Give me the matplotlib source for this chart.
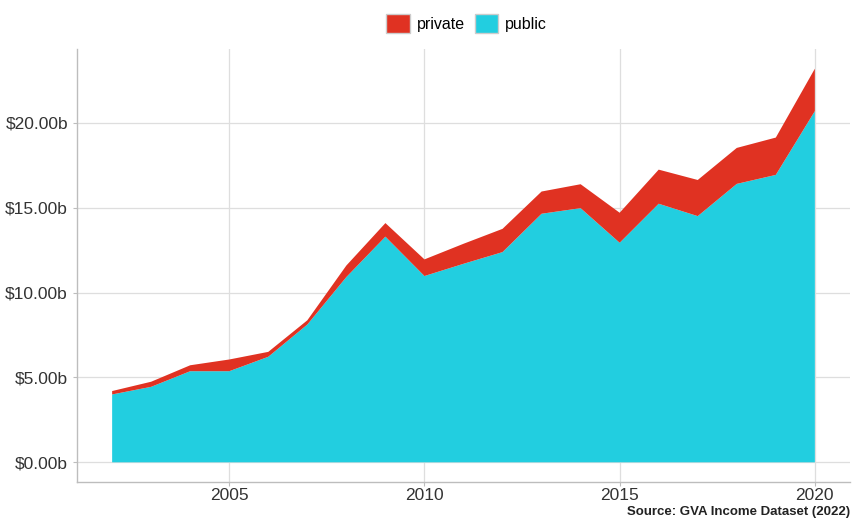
import matplotlib.pyplot as plt
from matplotlib.patches import Patch
from matplotlib.ticker import FuncFormatter

plt.rcParams['font.family'] = ['Liberation Sans', 'DejaVu Sans']

# GVA income, $ billions
years = list(range(2002, 2021))
public = [4.00, 4.45, 5.37, 5.37, 6.22, 8.12, 10.92, 13.30, 10.98, 11.70,
          12.39, 14.65, 14.98, 12.94, 15.24, 14.51, 16.41, 16.94, 20.70]
private = [0.20, 0.30, 0.35, 0.69, 0.29, 0.25, 0.68, 0.80, 0.98, 1.18,
           1.37, 1.31, 1.41, 1.77, 2.01, 2.13, 2.12, 2.20, 2.50]

col_private = '#E03222'
col_public = '#22CEE0'

fig = plt.figure(figsize=(8.53, 5.2), dpi=100)
ax = fig.add_axes([77 / 853, 38 / 520, 773 / 853, 433 / 520])

ax.stackplot(years, public, private, colors=[col_public, col_private], linewidth=0)

total = [a + b for a, b in zip(public, private)]
ymax = max(total)
pad_y = ymax * 0.05
ax.set_ylim(-pad_y, ymax + pad_y)
pad_x = (years[-1] - years[0]) * 0.05
ax.set_xlim(years[0] - pad_x, years[-1] + pad_x)

ax.set_xticks([2005, 2010, 2015, 2020])
ax.set_yticks([0, 5, 10, 15, 20])
ax.yaxis.set_major_formatter(FuncFormatter(lambda v, p: '${:.2f}b'.format(v)))

ax.grid(True, color='#DEDEDE', linewidth=0.9)
ax.set_axisbelow(True)
for s in ['top', 'right']:
    ax.spines[s].set_visible(False)
for s in ['left', 'bottom']:
    ax.spines[s].set_color('#BDBDBD')
    ax.spines[s].set_linewidth(1.0)
ax.tick_params(axis='both', colors='#BDBDBD', length=3, labelsize=12.5,
               labelcolor='#333333')
ax.tick_params(axis='x', pad=1.5)

handles = [Patch(facecolor=col_private, edgecolor='#cccccc', label='private'),
           Patch(facecolor=col_public, edgecolor='#cccccc', label='public')]
fig.legend(handles=handles, loc='center', bbox_to_anchor=(0.547, 0.955), ncol=2,
           frameon=False, fontsize=11.5, handlelength=1.5, handleheight=1.5,
           handletextpad=0.4, columnspacing=0.6)

fig.text(0.997, 0.004, 'Source: GVA Income Dataset (2022)', ha='right', va='bottom',
         fontsize=9.5, fontweight='bold', color='#222222')

fig.savefig('out.png', dpi=100)
